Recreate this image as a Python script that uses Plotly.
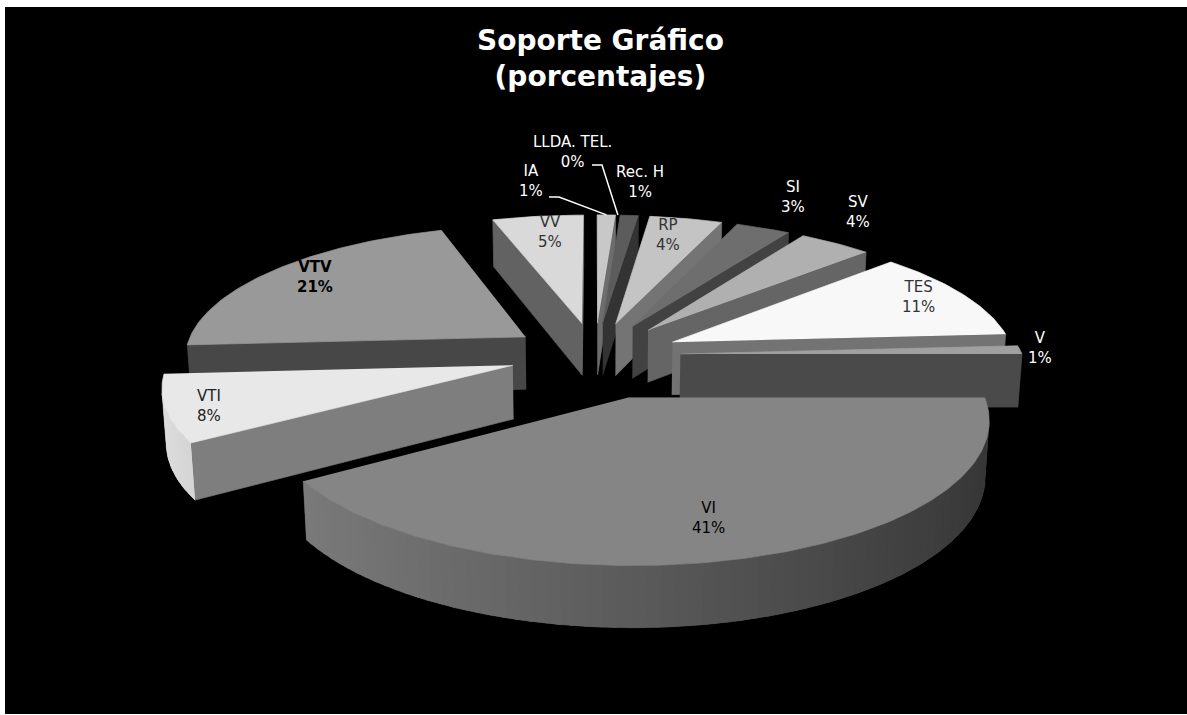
import numpy as np
import plotly.graph_objects as go

# ---------------- data ----------------
categories = ["IA", "LLDA. TEL.", "Rec. H", "RP", "SI", "SV", "TES", "V", "VI", "VTI", "VTV", "VV"]
percentages = [1, 0, 1, 4, 3, 4, 11, 1, 41, 8, 21, 5]

# ---------------- per-slice styling ----------------
top_gray = [200, 120, 92, 196, 110, 176, 248, 160, 133, 232, 153, 217]
explode = [1.0, 1.0, 1.0, 1.0, 1.0, 1.0, 1.0, 1.0, 1.3, 1.0, 1.0, 1.0]
label_pos = [(531, 181), (572, 152), (640, 182), (668, 235), (793, 197), (858, 212),
             (918, 297), (1040, 348), (708, 518), (209, 406), (315, 277), (550, 232)]
label_color = ["#ffffff", "#ffffff", "#ffffff", "#333333", "#ffffff", "#ffffff",
               "#333333", "#ffffff", "#000000", "#222222", "#000000", "#333333"]
label_bold = [False, False, False, False, False, False, False, False, False, False, True, False]
# leader lines: label-side start point for slices whose label sits away from them
leader_start = {0: (549, 197), 1: (592, 165)}

LABEL_FONT = "DejaVu Sans"
TITLE_FONT = "DejaVu Sans"

# ---------------- 3D view ----------------
W, H_PX = 1187, 715
CX, CY = 595.0, 355.0          # screen position of the pie centre
ELEV = np.radians(22.6)        # camera elevation
SA, CA = np.sin(ELEV), np.cos(ELEV)
L = 26.8                       # camera distance (pie units)
F = 85.5 * L                   # focal length -> px per unit at the centre
R = 4.0                        # slice radius (explosion = 1 unit)
THICK = 0.68                   # pie thickness
CAM = np.array([0.0, -L * CA, L * SA])


def proj(X, Y, Z):
    X, Y, Z = np.asarray(X, float), np.asarray(Y, float), np.asarray(Z, float)
    d = L + Y * CA - Z * SA
    return CX + F * X / d, CY - F * (Y * SA + Z * CA) / d


def gray(v):
    v = int(round(min(255, max(0, v))))
    return f"rgb({v},{v},{v})"


fig = go.Figure()


def poly(xs, ys, color, lw=0.7):
    fig.add_trace(go.Scatter(
        x=list(xs), y=list(ys), mode="lines", fill="toself", fillcolor=color,
        line=dict(color=color, width=lw), hoverinfo="skip", showlegend=False))


def rim_visible(ax, ay, t):
    return (ax - CAM[0]) * np.sin(t) + (ay - CAM[1]) * np.cos(t) + R < 0


def rim_shade(t):
    return 0.40 + 0.28 * (1 - np.sin(t))


total = float(sum(percentages))
bounds = np.concatenate([[0.0], np.cumsum(percentages)]) / total * 360.0

slices = []
for i in range(len(categories)):
    a0, a1 = bounds[i], bounds[i + 1]
    mid = np.radians(0.5 * (a0 + a1))
    ax, ay = explode[i] * np.sin(mid), explode[i] * np.cos(mid)
    slices.append(dict(i=i, a0=a0, a1=a1, ax=ax, ay=ay,
                       depth=ay + 0.5 * R * np.cos(mid)))

# painter's order: farthest slice first
for s in sorted(slices, key=lambda q: -q["depth"]):
    a0, a1, ax, ay = s["a0"], s["a1"], s["ax"], s["ay"]
    if a1 - a0 <= 0:
        continue
    base = top_gray[s["i"]]

    # radial cut faces
    for ang, is_start in ((a0, True), (a1, False)):
        t = np.radians(ang)
        nx, ny = (-np.cos(t), np.sin(t)) if is_start else (np.cos(t), -np.sin(t))
        if (ax - CAM[0]) * nx + (ay - CAM[1]) * ny >= 0:
            continue
        ex, ey = ax + R * np.sin(t), ay + R * np.cos(t)
        px, py = proj([ax, ex, ex, ax], [ay, ey, ey, ay], [0, 0, -THICK, -THICK])
        nang = np.degrees(np.arctan2(nx, ny))
        f = 0.45 + 0.15 * max(0.0, np.cos(np.radians(nang - 120))) ** 4
        poly(px, py, gray(base * f))

    # outer rim: fine sampling, keep the front-facing part only
    fine = np.radians(np.linspace(a0, a1, max(3, int(np.ceil((a1 - a0) / 0.25)) + 1)))
    vis = np.array([rim_visible(ax, ay, t) for t in fine])
    if vis.sum() >= 2:
        tv = fine[vis]
        r0, r1 = tv[0], tv[-1]
        # underlay for the whole visible band (hides seams between shaded strips)
        band = np.concatenate([tv, tv[::-1]])
        zb = np.concatenate([np.zeros(len(tv)), -THICK * np.ones(len(tv))])
        px, py = proj(ax + R * np.sin(band), ay + R * np.cos(band), zb)
        poly(px, py, gray(base * rim_shade(0.5 * (r0 + r1))), lw=0.5)
        # shaded strips, each overlapping the next slightly
        nseg = max(1, int(np.ceil(np.degrees(r1 - r0) / 2.0)))
        edges = np.linspace(r0, r1, nseg + 1)
        step = edges[1] - edges[0]
        for k in range(nseg):
            lo, hi = edges[k], min(r1, edges[k + 1] + 0.35 * step)
            tt = np.linspace(lo, hi, 4)
            ring = np.concatenate([tt, tt[::-1]])
            zz = np.concatenate([np.zeros(4), -THICK * np.ones(4)])
            px, py = proj(ax + R * np.sin(ring), ay + R * np.cos(ring), zz)
            poly(px, py, gray(base * rim_shade(0.5 * (edges[k] + edges[k + 1]))), lw=0)

    # top face
    m = max(3, int(np.ceil((a1 - a0) / 1.0)) + 1)
    tt = np.radians(np.linspace(a0, a1, m))
    X = np.concatenate([[ax], ax + R * np.sin(tt)])
    Y = np.concatenate([[ay], ay + R * np.cos(tt)])
    px, py = proj(X, Y, np.zeros_like(X))
    poly(px, py, gray(base))

# leader lines for the small top labels
for i, (sx, sy) in leader_start.items():
    s = slices[i]
    t = np.radians(0.5 * (s["a0"] + s["a1"]) if s["a1"] > s["a0"] else s["a0"])
    tx, ty = proj(s["ax"] + R * np.sin(t), s["ay"] + R * np.cos(t), 0.0)
    fig.add_trace(go.Scatter(
        x=[sx, sx + 10, float(tx)], y=[sy, sy, float(ty)], mode="lines",
        line=dict(color="white", width=1.5), hoverinfo="skip", showlegend=False))

# data labels
for i, cat in enumerate(categories):
    txt = f"{cat}<br>{percentages[i]}%"
    if label_bold[i]:
        txt = f"<b>{cat}</b><br><b>{percentages[i]}%</b>"
    fig.add_annotation(x=label_pos[i][0], y=label_pos[i][1], text=txt, showarrow=False,
                       xref="x", yref="y", align="center",
                       font=dict(family=LABEL_FONT, size=15, color=label_color[i]))

# title
fig.add_annotation(x=600, y=58, xref="x", yref="y", showarrow=False, align="center",
                   text="<b>Soporte Gráfico</b><br><b>(porcentajes)</b>",
                   font=dict(family=TITLE_FONT, size=28, color="white"))

fig.update_layout(
    width=W, height=H_PX,
    margin=dict(l=5, r=0, t=7, b=1),
    paper_bgcolor="white", plot_bgcolor="black",
    xaxis=dict(range=[5, 1187], visible=False, fixedrange=True),
    yaxis=dict(range=[714, 7], visible=False, fixedrange=True),
    showlegend=False,
)

fig.write_html("out.html")
